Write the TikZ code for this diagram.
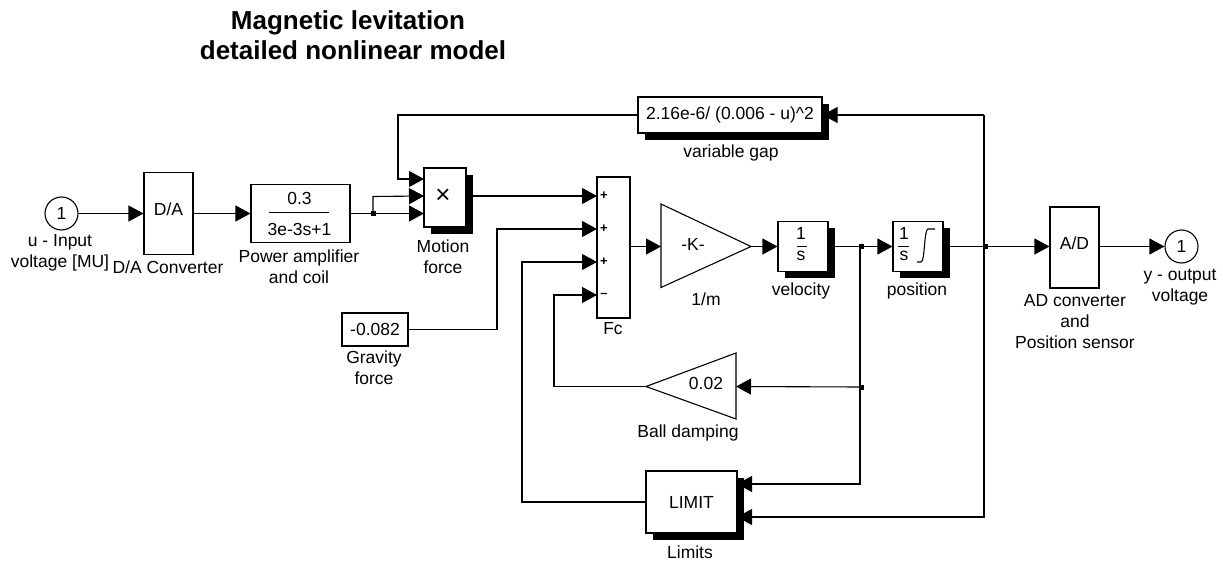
\documentclass[tikz,border=0pt]{standalone}
\usepackage{fontspec}
\setmainfont{Liberation Sans}
\usetikzlibrary{arrows.meta, shadows, positioning, calc}

\tikzset{
  wire/.style={line width=1.1pt},
  wirearrow/.style={wire, -{Triangle[length=15pt,width=16pt]}},
  block/.style={draw, fill=white, line width=1.1pt, inner sep=0pt, font=\fontsize{17.5}{20}\selectfont},
  shadowblock/.style={block, general shadow={fill=black, shadow xshift=7pt, shadow yshift=-7pt}},
  port/.style={block, circle, minimum size=33pt},
  junction/.style={fill=black, inner sep=0pt, minimum size=5pt},
  caption/.style={align=center, inner sep=0pt, font=\fontsize{17.5}{21}\selectfont},
  sign/.style={inner sep=0pt, font=\bfseries\fontsize{13}{13}\selectfont}
}

\begin{document}
\begin{tikzpicture}[x=1pt,y=-1pt]
  \useasboundingbox (0,0) rectangle (1223,561);

  \node[align=center, inner sep=0pt, font=\bfseries\fontsize{26}{30}\selectfont] (title) at (353,35)
    {Magnetic levitation\hspace*{10pt}\\detailed nonlinear model};

  % blocks
  \node[port] (inport) at (61.5,213.5) {1};
  \node[block, minimum width=49pt, minimum height=82pt] (da) at (168.5,213.5) {};
  \node[block, minimum width=99pt, minimum height=58pt] (amp) at (300.5,213.5) {};
  \node[shadowblock, minimum width=42pt, minimum height=59pt] (motion) at (445,197.5) {};
  \node[shadowblock, minimum width=184pt, minimum height=36pt] (gap) at (730,115) {2.16e-6/ (0.006 - u)\textasciicircum 2};
  \node[block, minimum width=33pt, minimum height=141pt] (sum) at (613.5,247.5) {};
  \node[block, minimum width=66pt, minimum height=33pt] (gravity) at (375,329.5) {-0.082};
  \node[shadowblock, minimum width=50pt, minimum height=50pt] (velocity) at (803,246.5) {};
  \node[shadowblock, minimum width=50pt, minimum height=50pt] (position) at (918,246.5) {};
  \node[block, minimum width=49pt, minimum height=81pt] (ad) at (1074.5,247.5) {};
  \node[port] (outport) at (1181.5,246.5) {1};
  \node[shadowblock, minimum width=91pt, minimum height=62pt] (limit) at (691.5,502) {LIMIT};

  % gains
  \coordinate (gainin) at (661,246.5);
  \coordinate (gainout) at (751,246.5);
  \draw[wire] (661,204) -- (gainout) -- (661,287.5) -- cycle;
  \coordinate (dampin) at (736,386.5);
  \coordinate (dampout) at (646,386.5);
  \draw[wire] (736,353) -- (dampout) -- (736,419) -- cycle;

  % text in blocks
  \node[inner sep=0pt, font=\fontsize{26}{26}\selectfont] (motiontext) at (443,196) {×};
  \node[caption] (datext) at (168.5,209) {D/A};
  \node[caption] (adtext) at (1074.5,243) {A/D};
  \node[caption] (ampnum) at (299.5,198) {0.3};
  \node[caption] (ampden) at (299.5,229) {3e-3s+1};
  \draw[wire] (269,212.5) -- (329,212.5);
  \node[caption] (gaintext) at (693,244) {-K-};
  \node[caption] (damptext) at (706,383) {0.02};
  \node[caption] (velnum) at (801,233) {1};
  \node[caption] (velden) at (801,256) {s};
  \draw[line width=0.8pt] (797,246) -- (807,246);
  \node[caption] (posnum) at (904,233) {1};
  \node[caption] (posden) at (904,256) {s};
  \draw[line width=0.8pt] (898,246) -- (909,246);
  \draw[wire] (917,262) -- (921,262) .. controls (925,262) and (924,229) .. (928,229) -- (935,229);
  \foreach \y/\s in {196/+,229/+,262/+,295/--}
    \node[sign] (sign\y) at (604,\y) {\s};

  % captions
  \node[caption] (inportcap) at (60,253) {u - Input\\voltage [MU]};
  \node[caption] (dacap) at (168,267) {D/A Converter};
  \node[caption] (ampcap) at (299,266.5) {Power amplifier\\and coil};
  \node[caption] (motioncap) at (443,256.5) {Motion\\force};
  \node[caption] (gapcap) at (731,153) {variable gap};
  \node[caption] (sumcap) at (613,329) {Fc};
  \node[caption] (gaincap) at (706,299) {1/m};
  \node[caption] (velocitycap) at (801,291) {velocity};
  \node[caption] (positioncap) at (917,291) {position};
  \node[caption] (adcap) at (1075,322) {AD converter\\and\\Position sensor};
  \node[caption] (outportcap) at (1180,287.5) {y - output\\voltage};
  \node[caption] (gravitycap) at (374,368) {Gravity\\force};
  \node[caption] (dampcap) at (688,433) {Ball damping};
  \node[caption] (limitcap) at (690,552) {Limits};

  % ports and bends
  \coordinate (motin1) at (424,179);
  \coordinate (motin2) at (424,196);
  \coordinate (motin3) at (424,213.5);
  \coordinate (sumin1) at (597,196);
  \coordinate (sumin2) at (597,229);
  \coordinate (sumin3) at (597,262);
  \coordinate (sumin4) at (597,295);
  \coordinate (limin1) at (737,484);
  \coordinate (limin2) at (737,517);
  \coordinate (gapbend) at (398,115);
  \coordinate (gravbend) at (497,229);
  \coordinate (limbend) at (522,262);
  \coordinate (dampbend) at (554,295);
  \coordinate (velbend) at (860,484);
  \coordinate (posbend) at (984,517);
  \coordinate (gaptop) at (984,115);

  \node[junction] (ampjoin) at (373,214) {};
  \node[junction] (veljoin) at (861,247) {};
  \node[junction] (posjoin) at (985,247) {};
  \node[junction] (dampjoin) at (861,387) {};

  % connectors
  \draw[wirearrow] (inport) -- (da);
  \draw[wirearrow] (da) -- (amp);
  \draw[wirearrow] (amp) -- (motin3);
  \draw[wirearrow] (ampjoin.center) -- ++(0,-17.5) -- (motin2);
  \draw[wirearrow] (gap.west) -- (gapbend) |- (motin1);
  \draw[wirearrow] (gaptop) -- (gap.east);
  \draw[wirearrow] (motion.east |- sumin1) -- (sumin1);
  \draw[wirearrow] (gravity.east) -| (gravbend) -- (sumin2);
  \draw[wirearrow] (limit.west) -| (limbend) -- (sumin3);
  \draw[wirearrow] (dampout) -| (dampbend) -- (sumin4);
  \draw[wirearrow] (sum.east |- gainin) -- (gainin);
  \draw[wirearrow] (gainout) -- (velocity.west);
  \draw[wirearrow] (velocity.east) -- (position.west);
  \draw[wirearrow] (position.east) -- (ad.west |- position.east);
  \draw[wirearrow] (ad.east |- outport.west) -- (outport.west);
  \draw[wire] (posbend |- posjoin.center) -- (gaptop);
  \draw[wirearrow] (posbend |- posjoin.center) -- (posbend) -- (limin2);
  \draw[wirearrow] (velbend |- veljoin.center) -- (velbend) -- (limin1);
  \draw[wirearrow] (velbend |- dampjoin.center) -- (dampin);
\end{tikzpicture}
\end{document}
